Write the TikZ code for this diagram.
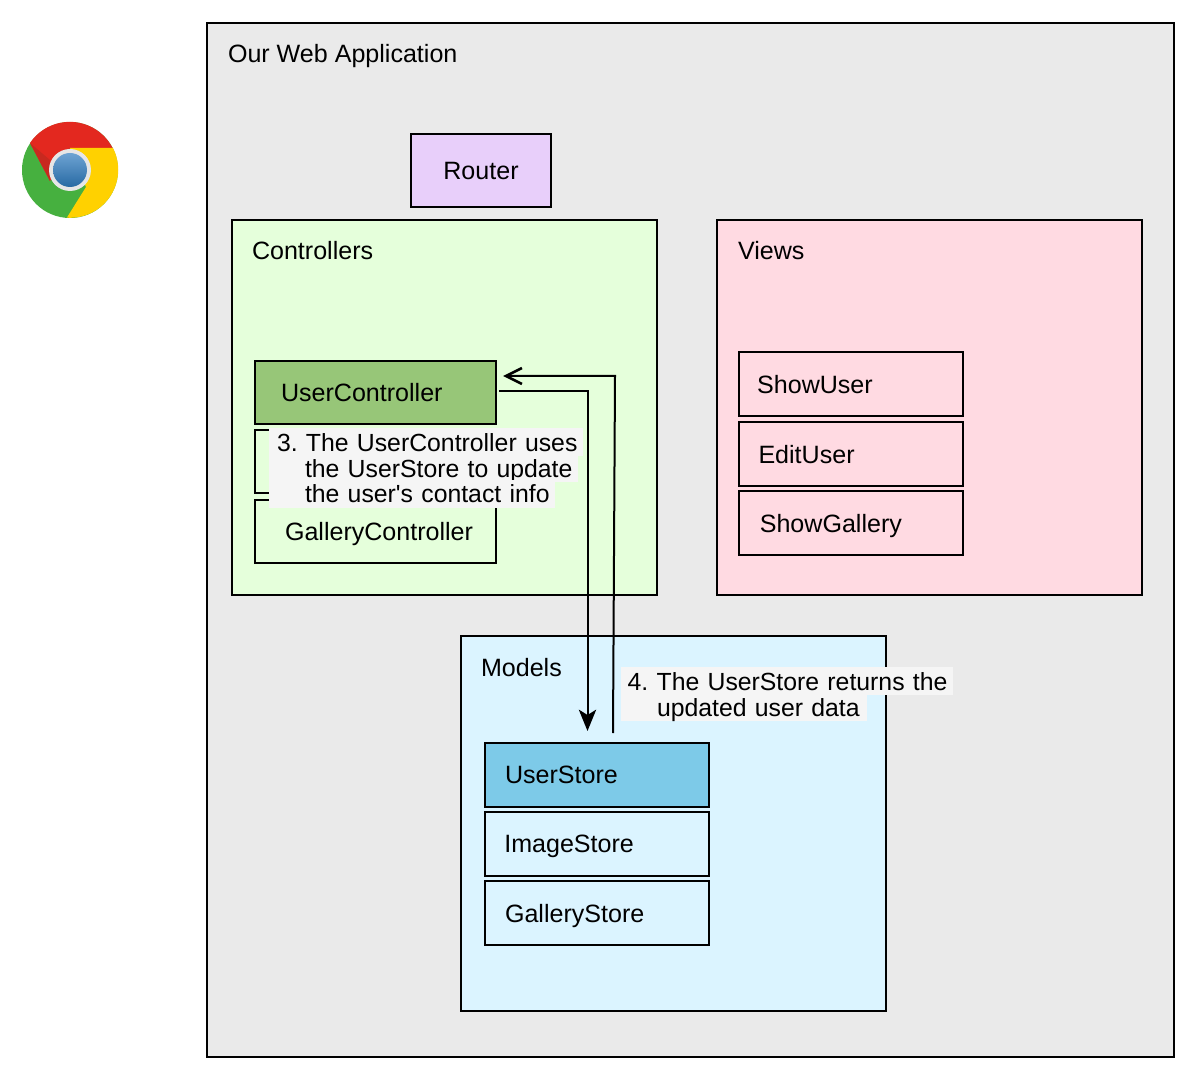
\documentclass[tikz,border=0pt]{standalone}
\usepackage{fontspec}
\setmainfont{Liberation Sans}[Ligatures=TeXOff]
\usetikzlibrary{arrows.meta,positioning}

\begin{document}
\begin{tikzpicture}[x=.75pt, y=-.75pt, line width=1.5pt]
\tikzstyle{every node}=[font=\fontsize{18.8}{22}\selectfont\frenchspacing, inner sep=0pt, outer sep=0pt]
\tikzstyle{panel}=[draw, anchor=north west, minimum width=319pt, minimum height=281.5pt]
\tikzstyle{title}=[anchor=base west]
\tikzstyle{item}=[draw, anchor=north west, align=left, text depth=0pt]
\tikzstyle{ctrl}=[item, minimum width=180.5pt, minimum height=47.5pt]
\tikzstyle{view}=[item, minimum width=168pt, minimum height=48pt]
\tikzstyle{note}=[fill=noteback, anchor=base west, align=left, font=\fontsize{18.6}{22}\selectfont\frenchspacing, text depth=3.75pt, text height=17.25pt]
\definecolor{appback}{HTML}{EAEAEA}
\definecolor{routerback}{HTML}{E8CFFA}
\definecolor{ctrlback}{HTML}{E5FFDB}
\definecolor{ctrlactive}{HTML}{97C678}
\definecolor{viewback}{HTML}{FFDAE2}
\definecolor{modelback}{HTML}{DBF4FF}
\definecolor{modelactive}{HTML}{7DCAE8}
\definecolor{noteback}{HTML}{F5F5F5}
\definecolor{chromered}{HTML}{E3281F}
\definecolor{chromedark}{HTML}{C8291F}
\definecolor{chromegreen}{HTML}{46B03F}
\definecolor{chromeyellow}{HTML}{FFD100}
\definecolor{chromeblue}{HTML}{2F7CC0}
\definecolor{chromering}{HTML}{E6E6E6}

\path[use as bounding box, fill=white] (0,0) rectangle (1196,1080);

% browser icon
\fill[chromegreen] (70,170) circle (48);
\fill[chromered] (30,143) arc[start angle=-146, end angle=-27, radius=48] -- (70,148) -- (50,181) -- cycle;
\fill[chromedark] (30,143) -- (50,181) -- (50,160) -- cycle;
\fill[chromeyellow] (113,148) arc[start angle=-27, end angle=94, radius=48] -- (86,187) -- (70,148) -- cycle;
\fill[chromering] (70,170) circle (21);
\shade[top color=chromeblue!70!white, bottom color=chromeblue!85!black] (70,170) circle (17);

% application
\node[draw, fill=appback, anchor=north west, minimum width=725pt, minimum height=775.5pt] (app) at (207,23) {};
\node[title] (apptitle) at (228,63) {Our Web Application};
\node[draw, fill=routerback, anchor=north west, minimum width=105pt, minimum height=55pt] (router) at (411,134) {Router};

% controllers
\node[panel, fill=ctrlback] (controllers) at (232,220) {};
\node[title] (ctrltitle) at (252,260) {Controllers};
\node[ctrl, fill=ctrlactive, inner xsep=19.5pt, text width=141.5pt] (userctrl) at (255,361) {UserController};
\node[ctrl] (hiddenctrl) at (255,430) {};
\node[ctrl, fill=ctrlback, inner xsep=22.5pt, text width=135.5pt] (galleryctrl) at (255,499.5) {GalleryController};

% views
\node[panel, fill=viewback] (views) at (717,220) {};
\node[title] (viewtitle) at (738,260) {Views};
\node[view, inner xsep=14pt, text width=140pt] (showuser) at (738.5,352.5) {ShowUser};
\node[view, inner xsep=15pt, text width=138pt] (edituser) at (738.5,422) {EditUser};
\node[view, inner xsep=16pt, text width=136pt] (showgallery) at (738.5,491) {ShowGallery};

% models
\node[panel, fill=modelback] (models) at (461,636) {};
\node[title] (modeltitle) at (481,676) {Models};
\node[view, fill=modelactive, inner xsep=15pt, text width=138pt] (userstore) at (485,743) {UserStore};
\node[view, inner xsep=14.5pt, text width=139pt] (imagestore) at (485,812) {ImageStore};
\node[view, inner xsep=15pt, text width=138pt] (gallerystore) at (485,881) {GalleryStore};

% messages
\coordinate (callstart) at (499,391);
\coordinate (callend) at (587.5,731);
\coordinate (backstart) at (613,733);
\coordinate (backcorner) at (615,376);
\coordinate (backend) at (503,376);
\draw[-{Stealth[length=16pt,width=13pt,inset=4pt]}] (callstart) -| (callend);
\draw[-{Straight Barb[length=12pt,width=12pt,line width=2pt]}] (backstart) -- (backcorner) -- (backend);

% step labels
\node[note, text width=235.5pt] (stepthreea) at (269,451) {\hspace*{6pt}3. The UserController uses};
\node[note, text width=232pt] (stepthreeb) at (269,477) {\hspace*{27pt}the UserStore to update};
\node[note, text width=214.5pt] (stepthreec) at (269,503) {\hspace*{27pt}the user's contact info};
\node[note, text width=249pt] (stepfoura) at (621,690) {\hspace*{5pt}4. The UserStore returns the};
\node[note, text width=184.5pt] (stepfourb) at (621,716) {\hspace*{27pt}updated user data};
\end{tikzpicture}
\end{document}
